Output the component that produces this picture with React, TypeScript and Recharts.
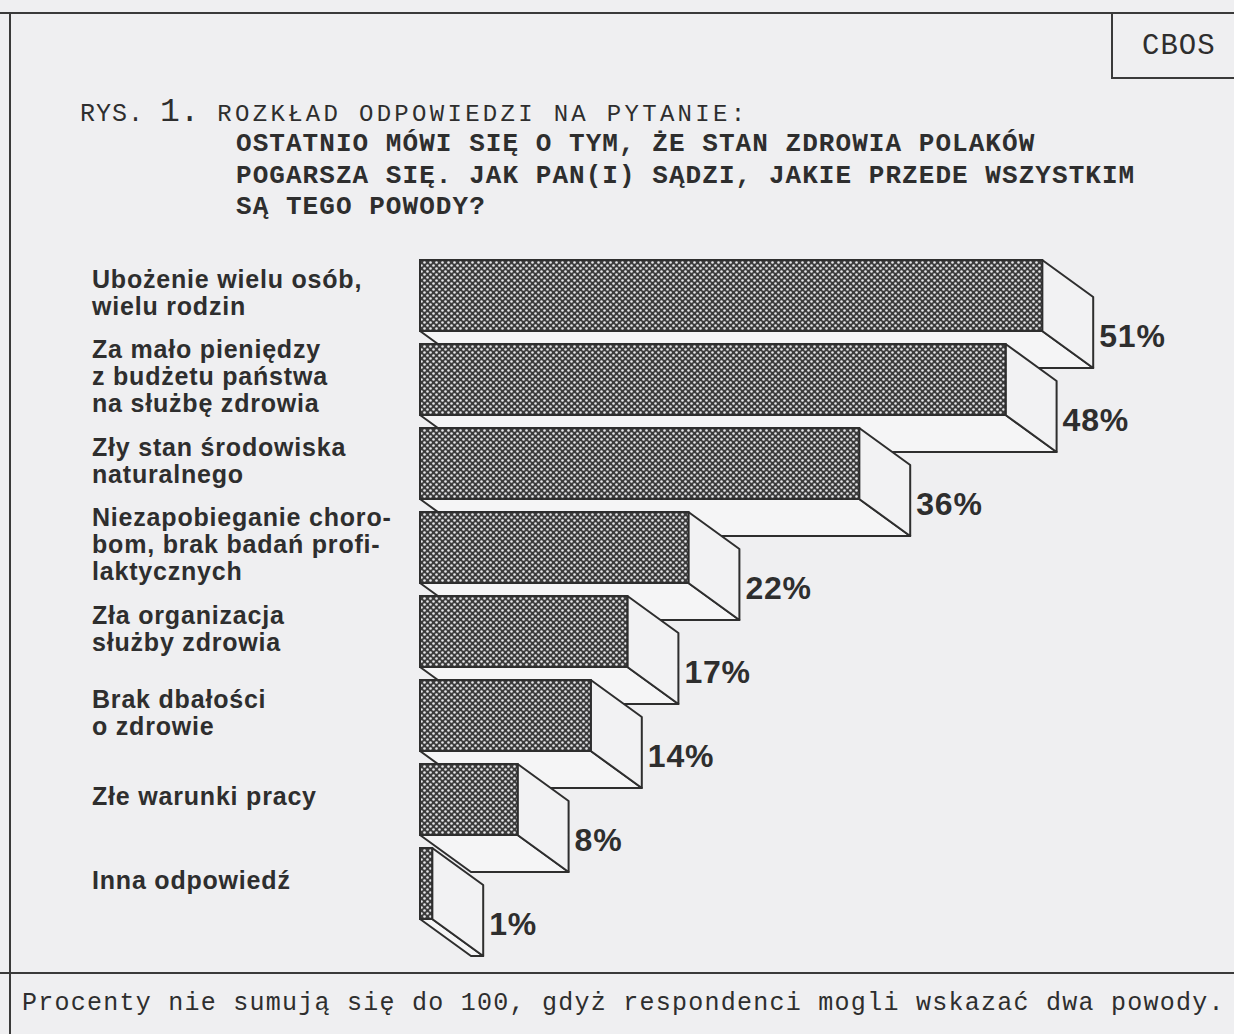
import React from 'react';
import { BarChart, Bar, XAxis, YAxis, LabelList } from 'recharts';

const categories: string[][] = [
  ['Ubożenie wielu osób,', 'wielu rodzin'],
  ['Za mało pieniędzy', 'z budżetu państwa', 'na służbę zdrowia'],
  ['Zły stan środowiska', 'naturalnego'],
  ['Niezapobieganie choro-', 'bom, brak badań profi-', 'laktycznych'],
  ['Zła organizacja', 'służby zdrowia'],
  ['Brak dbałości', 'o zdrowie'],
  ['Złe warunki pracy'],
  ['Inna odpowiedź'],
];
const values = [51, 48, 36, 22, 17, 14, 8, 1];

const data = categories.map((lines, i) => ({ name: lines.join('\n'), value: values[i] }));

const INK = '#2e2e2e';
const PAPER = '#efeff1';
const DEPTH_X = 51;
const DEPTH_Y = 37;
const LABEL_LEFT = 92;
const mono = '"Liberation Mono", "DejaVu Sans Mono", monospace';
const sans = '"Liberation Sans", Arial, sans-serif';

function Bar3D(props: any) {
  const { x, y, width, height } = props;
  const w = Math.max(width, 0);
  return (
    <g>
      <polygon
        points={`${x},${y + height} ${x + w},${y + height} ${x + w + DEPTH_X},${y + height + DEPTH_Y} ${x + DEPTH_X},${y + height + DEPTH_Y}`}
        fill="#f5f5f6"
        stroke={INK}
        strokeWidth={2}
        strokeLinejoin="round"
      />
      <polygon
        points={`${x + w},${y} ${x + w + DEPTH_X},${y + DEPTH_Y} ${x + w + DEPTH_X},${y + height + DEPTH_Y} ${x + w},${y + height}`}
        fill="#f2f2f3"
        stroke={INK}
        strokeWidth={2}
        strokeLinejoin="round"
      />
      <rect x={x} y={y} width={w} height={height} fill="url(#cbosHatch)" stroke={INK} strokeWidth={2} />
    </g>
  );
}

function ValueLabel(props: any) {
  const { x, y, width, height, value } = props;
  return (
    <text
      x={x + width + DEPTH_X + 6}
      y={y + height + 16}
      fill={INK}
      fontFamily={sans}
      fontWeight="bold"
      fontSize={32}
      letterSpacing={0.8}
    >
      {value}%
    </text>
  );
}

function CategoryTick(props: any) {
  const { y, payload } = props;
  const lines: string[] = String(payload.value).split('\n');
  const lh = 27;
  const start = y - 3 - ((lines.length - 1) * lh) / 2 + 9;
  return (
    <text fill={INK} fontFamily={sans} fontWeight="bold" fontSize={25} letterSpacing={0.8}>
      {lines.map((l, i) => (
        <tspan key={i} x={LABEL_LEFT} y={start + i * lh}>
          {l}
        </tspan>
      ))}
    </text>
  );
}

const line = (s: React.CSSProperties): React.CSSProperties => ({ position: 'absolute', background: '#3a3a3a', ...s });

export default function App() {
  return (
    <div style={{ position: 'absolute', left: 0, top: 0, width: 1234, height: 1034, background: PAPER, overflow: 'hidden', color: INK }}>
      <svg width={0} height={0} style={{ position: 'absolute' }}>
        <defs>
          <pattern id="cbosHatch" width={6} height={6} patternUnits="userSpaceOnUse">
            <rect width={6} height={6} fill="#3c3c3c" />
            <circle cx={1.5} cy={1.5} r={1.3} fill="#e6e6e8" />
            <circle cx={4.5} cy={4.5} r={1.3} fill="#e6e6e8" />
          </pattern>
        </defs>
      </svg>

      {/* frame */}
      <div style={line({ left: 0, top: 12, width: 1234, height: 2 })} />
      <div style={line({ left: 9, top: 12, width: 2, height: 1022 })} />
      <div style={line({ left: 0, top: 972, width: 1234, height: 2 })} />
      <div style={line({ left: 1111, top: 12, width: 2, height: 67 })} />
      <div style={line({ left: 1111, top: 77, width: 123, height: 2 })} />
      <div style={{ position: 'absolute', left: 1142, top: 30, fontFamily: mono, fontSize: 29, letterSpacing: 1 }}>CBOS</div>

      {/* title */}
      <div style={{ position: 'absolute', left: 80, top: 94, fontFamily: mono, whiteSpace: 'pre' }}>
        <span style={{ fontSize: 25, letterSpacing: 1 }}>RYS. </span>
        <span style={{ fontSize: 33 }}>1.</span>
        <span style={{ fontSize: 24, letterSpacing: 3.3 }}> ROZKŁAD ODPOWIEDZI NA PYTANIE:</span>
      </div>
      {['OSTATNIO MÓWI SIĘ O TYM, ŻE STAN ZDROWIA POLAKÓW', 'POGARSZA SIĘ. JAK PAN(I) SĄDZI, JAKIE PRZEDE WSZYSTKIM', 'SĄ TEGO POWODY?'].map((t, i) => (
        <div
          key={i}
          style={{ position: 'absolute', left: 236, top: 129 + i * 31.5, fontFamily: mono, fontWeight: 'bold', fontSize: 26, letterSpacing: 1.05, whiteSpace: 'pre' }}
        >
          {t}
        </div>
      ))}

      <div style={{ position: 'absolute', left: 0, top: 0 }}>
        <BarChart
          width={1234}
          height={1034}
          data={data}
          layout="vertical"
          margin={{ top: 253, right: 82, bottom: 109, left: 92 }}
          barSize={71}
        >
          <XAxis type="number" domain={[0, 60]} hide />
          <YAxis
            type="category"
            dataKey="name"
            width={328}
            axisLine={false}
            tickLine={false}
            interval={0}
            tick={<CategoryTick />}
          />
          <Bar dataKey="value" shape={<Bar3D />} isAnimationActive={false}>
            <LabelList dataKey="value" content={<ValueLabel />} />
          </Bar>
        </BarChart>
      </div>

      {/* footnote */}
      <div style={{ position: 'absolute', left: 22, top: 989, fontFamily: mono, fontSize: 25, letterSpacing: 1.25, whiteSpace: 'pre' }}>
        Procenty nie sumują się do 100, gdyż respondenci mogli wskazać dwa powody.
      </div>
    </div>
  );
}
